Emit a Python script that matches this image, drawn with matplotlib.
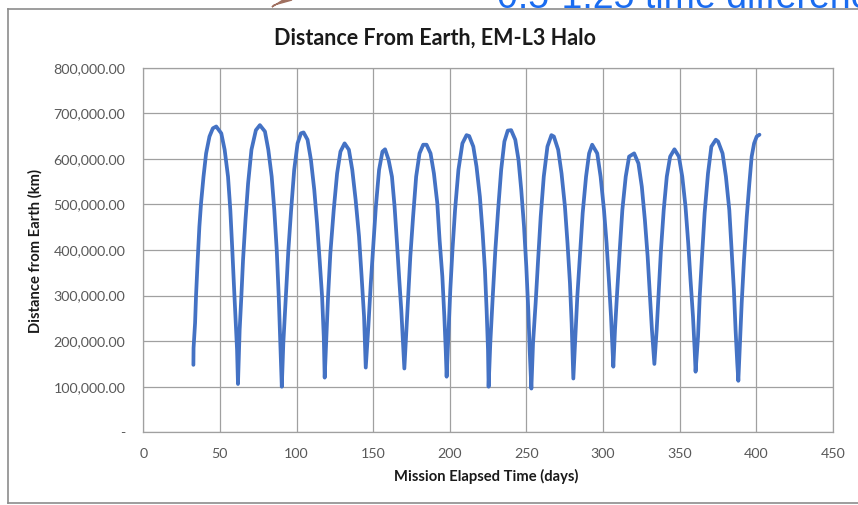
import numpy as np
import matplotlib
matplotlib.use('Agg')
import matplotlib.pyplot as plt
from matplotlib.ticker import FuncFormatter, MultipleLocator
from matplotlib.lines import Line2D
from matplotlib.patches import Polygon

# values (days, thousands of km)
mission_days = [
    32.7, 32.8, 33.8, 34.4, 35.5, 36.6, 37.7, 39.3, 41.0, 43.2, 45.4, 47.6, 50.9, 53.1, 55.3, 56.8, 58.1, 59.2, 60.3, 61.2, 61.8,
    62.9, 64.0, 65.1, 66.7, 68.4, 70.6, 73.5, 76.1, 79.4, 81.6, 83.8, 85.5, 87.1, 88.4, 89.3, 90.4,
    91.4, 93.2, 94.7, 96.5, 98.5, 100.7, 102.9, 104.6, 107.2, 109.4, 111.6, 113.4, 115.1, 116.7, 117.8, 118.4,
    119.5, 120.6, 122.1, 124.3, 126.5, 128.7, 131.4, 134.2, 136.4, 138.6, 140.8, 142.5, 144.1, 145.2,
    146.9, 148.5, 150.2, 151.8, 153.9, 156.1, 157.8, 160.1, 162.3, 164.0, 165.6, 167.1, 168.4, 169.3, 170.4,
    171.5, 172.8, 174.3, 176.1, 178.1, 180.3, 182.7, 184.9, 187.5, 189.7, 191.9, 193.4, 195.2, 196.5, 197.4, 198.0,
    199.1, 200.4, 201.8, 203.5, 205.7, 208.3, 211.0, 212.7, 215.4, 217.5, 219.7, 221.5, 223.0, 224.1, 225.0, 225.4,
    226.5, 228.1, 229.8, 231.6, 233.6, 235.7, 237.9, 240.1, 242.8, 244.9, 246.7, 248.5, 250.0, 251.3, 252.2, 253.3,
    254.4, 256.1, 257.7, 259.4, 261.4, 263.8, 266.4, 268.0, 270.8, 273.0, 275.2, 276.9, 278.5, 279.6, 280.7,
    281.8, 283.3, 285.1, 286.8, 289.0, 291.0, 293.0, 296.3, 298.5, 300.7, 302.4, 303.9, 305.3, 306.1, 306.8,
    307.9, 309.4, 311.0, 312.7, 314.9, 317.1, 320.4, 323.2, 325.4, 327.4, 329.2, 330.7, 332.0, 333.6,
    335.1, 336.4, 337.9, 339.7, 341.7, 343.9, 346.7, 349.6, 351.8, 353.9, 355.7, 357.2, 358.8, 359.9, 360.5,
    362.1, 363.2, 364.7, 366.4, 368.6, 370.8, 373.7, 375.2, 378.1, 380.3, 382.5, 384.0, 385.5, 386.6, 387.7, 388.4,
    389.5, 390.6, 392.1, 393.9, 395.6, 397.1, 398.7, 400.4, 402.2,
]
dist_thousand_km = [
    148, 185, 240, 298, 378, 451, 503, 561, 612, 649, 667, 671, 656, 620, 561, 488, 400, 320, 246, 181, 106,
    225, 298, 378, 466, 546, 620, 663, 674, 660, 620, 561, 488, 400, 298, 210, 100,
    196, 306, 400, 488, 576, 634, 656, 658, 642, 598, 532, 459, 378, 298, 210, 120,
    210, 298, 393, 488, 568, 616, 634, 620, 576, 510, 430, 342, 254, 142,
    232, 327, 415, 495, 576, 616, 621, 598, 561, 496, 415, 334, 268, 210, 140,
    210, 291, 386, 473, 561, 612, 631, 631, 612, 568, 503, 422, 342, 254, 181, 122,
    210, 313, 400, 488, 576, 634, 652, 650, 627, 583, 517, 437, 356, 268, 181, 100,
    196, 298, 400, 488, 576, 638, 662, 663, 642, 598, 532, 452, 364, 268, 181, 96,
    196, 284, 378, 473, 561, 627, 652, 649, 620, 568, 496, 415, 327, 239, 118,
    196, 298, 393, 481, 561, 612, 631, 612, 561, 488, 415, 334, 254, 196, 144,
    225, 313, 400, 488, 561, 605, 612, 590, 539, 466, 386, 298, 225, 150,
    225, 306, 400, 488, 561, 605, 621, 605, 561, 496, 415, 334, 254, 181, 133,
    210, 298, 386, 481, 568, 627, 642, 638, 612, 561, 488, 400, 313, 225, 152, 113,
    196, 284, 378, 473, 546, 605, 634, 649, 653,
]

title = 'Distance From Earth, EM-L3 Halo'
xlabel = 'Mission Elapsed Time (days)'
ylabel = 'Distance from Earth (km)'

plt.rcParams['font.family'] = ['Lato', 'DejaVu Sans']

W, H = 858, 505
fig = plt.figure(figsize=(W / 100, H / 100), dpi=100)
ax = fig.add_axes([143.3 / W, 1 - 432.3 / H, (832.7 - 143.3) / W, (432.3 - 67.7) / H])

dist_km = np.array(dist_thousand_km) * 1000.0
ax.plot(mission_days, dist_km, color='#4472C4', linewidth=2.7, solid_joinstyle='round', solid_capstyle='round')

ax.set_xlim(0, 450)
ax.set_ylim(0, 800000)
ax.xaxis.set_major_locator(MultipleLocator(50))
ax.yaxis.set_major_locator(MultipleLocator(100000))
ax.yaxis.set_major_formatter(FuncFormatter(lambda v, p: '-' if v == 0 else '{:,.2f}'.format(v)))
ax.grid(True, color='#a0a0a0', linewidth=0.9)
ax.set_axisbelow(True)
for s in ax.spines.values():
    s.set_color('#a0a0a0')
    s.set_linewidth(0.9)
ax.tick_params(length=0, labelsize=10.3, labelcolor='#595959')
ax.tick_params(axis='y', pad=13)
ax.tick_params(axis='x', pad=11)

fig.text(435.5 / W, 1 - 38 / H, title, ha='center', va='center', fontsize=15.5, fontweight='bold', color='#1a1a1a')
fig.text(486 / W, 1 - 476 / H, xlabel, ha='center', va='center', fontsize=10.6, fontweight='bold', color='#1a1a1a')
fig.text(35 / W, 1 - 251 / H, ylabel, ha='center', va='center', rotation=90, fontsize=10.6, fontweight='bold', color='#1a1a1a')

# frame of the slide crop (top, left, bottom)
for xs, ys in [((8, W), (9, 9)), ((8, 8), (9, 503)), ((8, W), (503, 503))]:
    fig.add_artist(Line2D([x / W for x in xs], [1 - y / H for y in ys], color='#8c8c8c', linewidth=1.2))

# bits of the slide that leak into the crop (cut off at the top in the reference too)
fig.text(497 / W, 1 - 8 / H, '0.5-1.25 time difference', ha='left', va='baseline', fontsize=27,
         color='#1a6cf0', family='Liberation Sans')
fig.add_artist(Polygon([[272 / W, 1 - 7 / H], [283 / W, 1], [292 / W, 1], [274 / W, 1 - 5 / H]],
                       closed=True, color='#a07060', transform=fig.transFigure))

fig.savefig('out.png', dpi=100)
